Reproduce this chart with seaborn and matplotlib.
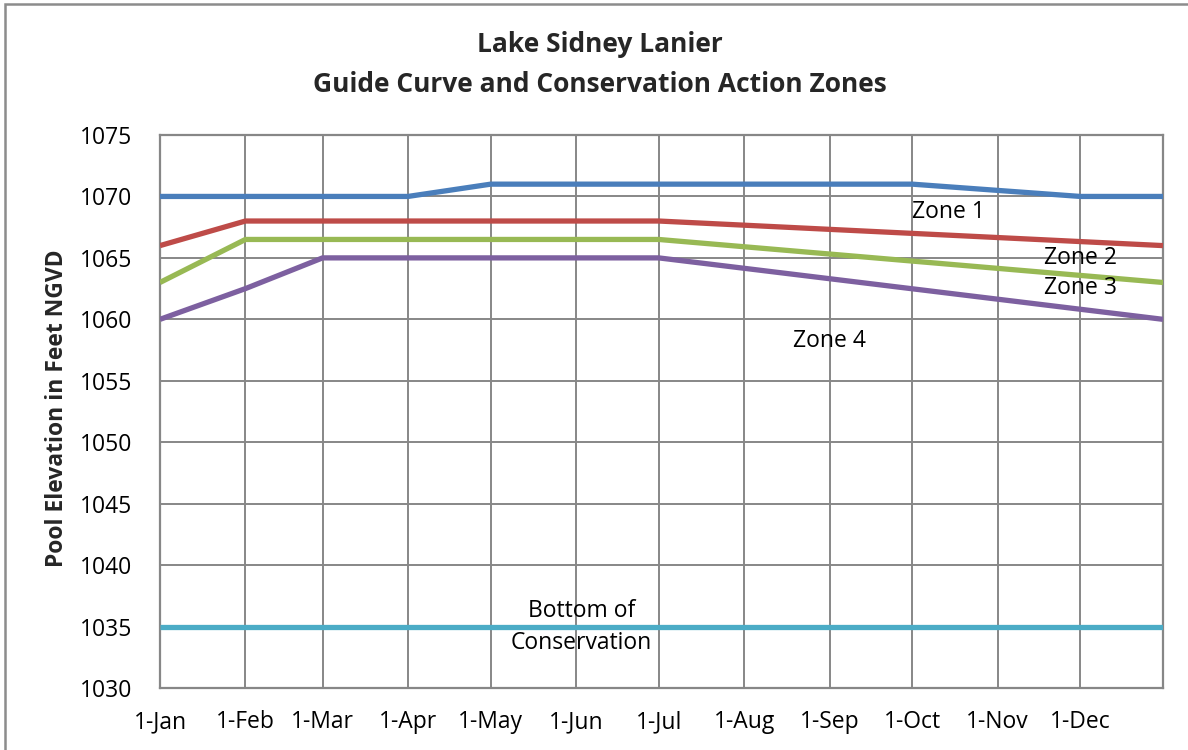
import matplotlib
matplotlib.use("Agg")
import matplotlib.pyplot as plt
from matplotlib.patches import Rectangle
import pandas as pd
import seaborn as sns

# Guide curve vertices (dates within one non-leap year) and pool elevations (ft NGVD)
zone1_dates = ["2019-01-01", "2019-04-01", "2019-05-01", "2019-10-01", "2019-12-01", "2019-12-31"]
zone1_elev = [1070, 1070, 1071, 1071, 1070, 1070]

zone2_dates = ["2019-01-01", "2019-02-01", "2019-07-01", "2019-12-31"]
zone2_elev = [1066, 1068, 1068, 1066]

zone3_dates = ["2019-01-01", "2019-02-01", "2019-07-01", "2019-12-31"]
zone3_elev = [1063, 1066.5, 1066.5, 1063]

zone4_dates = ["2019-01-01", "2019-02-01", "2019-03-01", "2019-07-01", "2019-12-31"]
zone4_elev = [1060, 1062.5, 1065, 1065, 1060]

bottom_dates = ["2019-01-01", "2019-12-31"]
bottom_elev = [1035, 1035]

series_names = ["Top of Conservation", "Zone 2 Top", "Zone 3 Top", "Zone 4 Top", "Bottom of Conservation"]
series_colors = ["#4A7EBB", "#BE4B48", "#98B954", "#7D60A0", "#4BACC6"]

month_ticks = ["2019-%02d-01" % m for m in range(1, 13)]
month_labels = ["1-Jan", "1-Feb", "1-Mar", "1-Apr", "1-May", "1-Jun",
                "1-Jul", "1-Aug", "1-Sep", "1-Oct", "1-Nov", "1-Dec"]
y_ticks = [1030, 1035, 1040, 1045, 1050, 1055, 1060, 1065, 1070, 1075]

frames = []
for name, d, v in zip(series_names,
                      [zone1_dates, zone2_dates, zone3_dates, zone4_dates, bottom_dates],
                      [zone1_elev, zone2_elev, zone3_elev, zone4_elev, bottom_elev]):
    frames.append(pd.DataFrame({"date": pd.to_datetime(d), "elev": v, "series": name}))
df = pd.concat(frames, ignore_index=True)

sns.set_theme(style="white")
plt.rcParams["font.family"] = ["Open Sans", "DejaVu Sans"]

fig = plt.figure(figsize=(11.88, 7.5), dpi=100)
ax = fig.add_axes([160 / 1188, 1 - 688 / 750, (1163 - 160) / 1188, (688 - 135) / 750])

sns.lineplot(data=df, x="date", y="elev", hue="series", hue_order=series_names,
             palette=series_colors, linewidth=3.8, legend=False, ax=ax,
             solid_capstyle="butt", zorder=3)

grid_color = "#878787"
ax.set_xlim(pd.Timestamp("2019-01-01"), pd.Timestamp("2019-12-31"))
ax.set_ylim(1030, 1075)
ax.set_yticks(y_ticks)
ax.set_xticks(pd.to_datetime(month_ticks))
ax.set_xticklabels(month_labels)
ax.tick_params(axis="both", labelsize=16.5, colors="black", length=0)
ax.tick_params(axis="x", pad=16)
ax.tick_params(axis="y", pad=20)
ax.grid(True, color=grid_color, linewidth=1.4)
ax.set_axisbelow(True)
for s in ax.spines.values():
    s.set_color(grid_color)
    s.set_linewidth(1.6)

ax.set_xlabel("")
ax.set_ylabel("")
fig.text(57 / 1188, 1 - 408 / 750, "Pool Elevation in Feet NGVD", rotation=90,
         ha="center", va="center", fontsize=16.5, fontweight="bold")

fig.text(600 / 1188, 1 - 45 / 750, "Lake Sidney Lanier", ha="center", va="center",
         fontsize=19, fontweight="bold")
fig.text(600 / 1188, 1 - 85 / 750, "Guide Curve and Conservation Action Zones",
         ha="center", va="center", fontsize=19, fontweight="bold")

# Zone labels
label_kw = dict(ha="center", va="center", fontsize=16.5, color="black", zorder=4)
ax.text(pd.Timestamp("2019-10-14"), 1068.7, "Zone 1", **label_kw)
ax.text(pd.Timestamp("2019-12-01"), 1065.0, "Zone 2", **label_kw)
ax.text(pd.Timestamp("2019-12-01"), 1062.55, "Zone 3", **label_kw)
ax.text(pd.Timestamp("2019-09-01"), 1058.2, "Zone 4", **label_kw)
ax.text(pd.Timestamp("2019-06-03"), 1035.0, "Bottom of\nConservation", linespacing=1.45, **label_kw)

# Chart-area border
fig.patches.append(Rectangle((5 / 1188, -0.05), 1.2, 1 - 4 / 750 + 0.05,
                             transform=fig.transFigure, fill=False,
                             edgecolor="#8C8C8C", linewidth=1.8))

fig.savefig("out.png", dpi=100)
